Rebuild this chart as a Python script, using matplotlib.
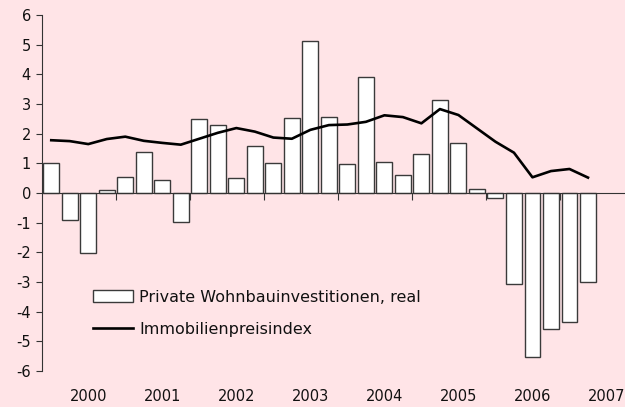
import matplotlib
matplotlib.use("Agg")
import matplotlib.pyplot as plt
import matplotlib.transforms as mtransforms

years = ["2000", "2001", "2002", "2003", "2004", "2005", "2006", "2007"]
investitionen = [1.0, -0.91, -2.03, 0.09, 0.54, 1.37, 0.45, -0.97,
                 2.51, 2.28, 0.49, 1.60, 1.00, 2.53, 5.12, 2.57,
                 0.99, 3.92, 1.03, 0.60, 1.30, 3.13, 1.67, 0.13,
                 -0.18, -3.07, -5.52, -4.60, -4.36, -3.01]
preisindex = [1.78, 1.75, 1.65, 1.82, 1.90, 1.76, 1.69, 1.63,
              1.83, 2.03, 2.19, 2.07, 1.87, 1.83, 2.13, 2.29,
              2.31, 2.40, 2.62, 2.56, 2.35, 2.83, 2.63, 2.18,
              1.73, 1.36, 0.53, 0.74, 0.81, 0.52]
yticks = list(range(-6, 7))

bg = "#FFE4E7"
plt.rcParams['font.family'] = ['DejaVu Sans']
fig = plt.figure(figsize=(6.25, 4.07), dpi=100, facecolor=bg)
ax = fig.add_axes([0.0672, 0.0885, 0.9328, 0.8745])
ax.set_facecolor(bg)

x = list(range(len(investitionen)))
bars = ax.bar(x, investitionen, width=0.86, color="white", edgecolor="#3a3a3a",
              linewidth=1.0, label="Private Wohnbauinvestitionen, real", zorder=2)
line, = ax.plot(x, preisindex, color="black", linewidth=1.9,
                label="Immobilienpreisindex", zorder=3)

ax.set_xlim(-0.5, 31.0)
ax.set_ylim(-6, 6)
ax.set_yticks(yticks)
ax.set_yticklabels([str(v) for v in yticks], fontsize=10.5, color="#111111")

for s in ["top", "right"]:
    ax.spines[s].set_visible(False)
ax.spines["bottom"].set_position(("data", 0))
ax.spines["bottom"].set_color("#333333")
ax.spines["left"].set_color("#333333")
ax.set_xticks([4 * i + 3.5 for i in range(len(years) - 1)])
ax.set_xticklabels([])
ax.tick_params(axis="x", direction="out", length=5, color="#333333")
ax.tick_params(axis="y", direction="out", length=4, color="#333333", pad=4)

trans = mtransforms.blended_transform_factory(ax.transData, ax.transAxes)
for i, yr in enumerate(years):
    ax.text(4 * i + 2, -0.072, yr, transform=trans, ha="center", va="center",
            fontsize=10.5, color="#111111")

leg = ax.legend([bars, line], [bars.get_label(), line.get_label()],
                loc="upper left", bbox_to_anchor=(0.087, 0.228), frameon=False,
                fontsize=11.5, handlelength=2.5, handleheight=0.8,
                handletextpad=0.4, labelspacing=1.05, borderpad=0,
                borderaxespad=0, labelcolor="#111111")

fig.savefig("out.png", dpi=100, facecolor=bg)
